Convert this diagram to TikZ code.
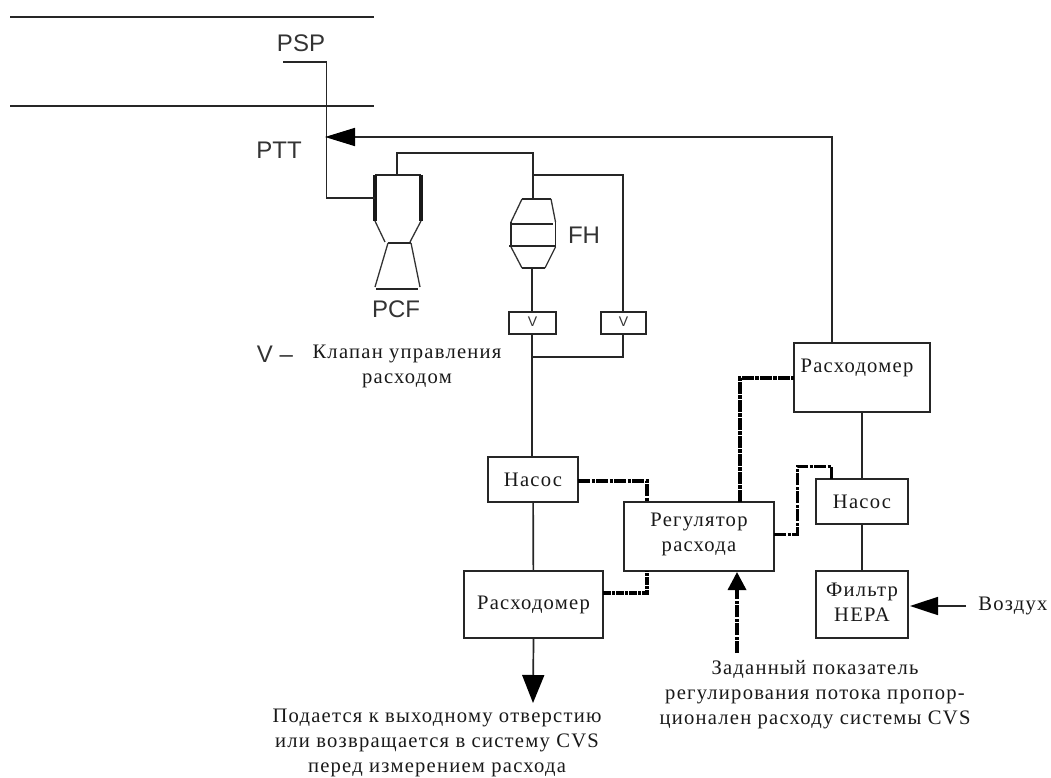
\documentclass[tikz,border=0pt]{standalone}
\usepackage{fontspec}
\setmainfont[LetterSpace=6]{Liberation Serif}
\newfontfamily\labfont{Liberation Sans}
\usetikzlibrary{arrows.meta}
\tikzset{
  x=1pt,y=-1pt,
  wire/.style={line width=1.7pt,black!85},
  thin wire/.style={line width=1.3pt,black!80},
  thick wall/.style={line width=3.2pt,black!90},
  boxn/.style={draw=black!85,line width=1.7pt,fill=none,inner sep=0pt,minimum width=#1},
  ctrl/.style={line width=3.4pt,black,dash pattern=on 12pt off 1.5pt on 3pt off 1.5pt,line join=miter},
  txt/.style={font=\fontsize{20.6}{25}\selectfont,align=center,inner sep=0pt,text=black!90},
  lab/.style={font=\labfont\fontsize{24}{26}\selectfont,inner sep=0pt,text=black!80},
  smalllab/.style={font=\labfont\fontsize{14}{16}\selectfont,inner sep=0pt,text=black!80},
}
\begin{document}
\begin{tikzpicture}
\useasboundingbox (0,0) rectangle (1051,778);
% duct
\coordinate (d1l) at (10,17); \coordinate (d1r) at (374,17);
\coordinate (d2l) at (10,106); \coordinate (d2r) at (374,106);
\draw[wire] (d1l) -- (d1r);
\draw[wire] (d2l) -- (d2r);
% boxes
\node[boxn=47pt,minimum height=22pt] (v1) at (532.5,323) {};
\node[boxn=45pt,minimum height=22pt] (v2) at (623.5,323) {};
\node[smalllab] (v1t) at (532.5,322) {V};
\node[smalllab] (v2t) at (623.5,322) {V};
\node[boxn=90pt,minimum height=45pt,txt] (pump1) at (533,479.5) {Насос};
\node[boxn=139pt,minimum height=67pt,txt] (meter1) at (533.5,604.5) {Расходомер};
\node[boxn=150pt,minimum height=69pt] (reg) at (699,536.5) {};
\node[txt] (regt) at (699,534.5) {Регулятор\\расхода};
\node[boxn=136pt,minimum height=69pt] (meter2) at (862,377.5) {};
\node[txt] (meter2t) at (857,368) {Расходомер};
\node[boxn=92pt,minimum height=45pt,txt] (pump2) at (862,501.5) {Насос};
\node[boxn=92pt,minimum height=67pt] (filter) at (862,604.5) {};
\node[txt] (filtert) at (862,602) {Фильтр\\HEPA};
% PCF
\coordinate (pcfa) at (375,175); \coordinate (pcfb) at (421,175);
\coordinate (pcfc) at (375,221); \coordinate (pcfd) at (421,221);
\coordinate (pcfe) at (385,242); \coordinate (pcff) at (410,242);
\coordinate (pcfg) at (388,243); \coordinate (pcfh) at (411,243);
\coordinate (pcfi) at (375,287); \coordinate (pcfj) at (420,287);
\coordinate (pcfk) at (376,289); \coordinate (pcfl) at (418,289);
\coordinate (pcfin) at (375,198); \coordinate (pcfout) at (397,175);
\draw[wire] (pcfa) -- (pcfb);
\draw[thick wall] (pcfa) -- (pcfc);
\draw[thick wall] (pcfb) -- (pcfd);
\draw[thin wire] (pcfc) -- (pcfe) (pcfd) -- (pcff);
\draw[wire] (pcfg) -- (pcfh);
\draw[thin wire] (pcfg) -- (pcfi) (pcfh) -- (pcfj);
\draw[wire] (pcfk) -- (pcfl);
\node[lab] (pcft) at (396,309) {PCF};
% FH
\coordinate (fha) at (522,199); \coordinate (fhb) at (551,199);
\coordinate (fhc) at (511,222); \coordinate (fhd) at (555.5,222);
\coordinate (fhe) at (511,247); \coordinate (fhf) at (555.5,247);
\coordinate (fhg) at (522,268); \coordinate (fhh) at (545,268);
\coordinate (fhin) at (533,199); \coordinate (fhout) at (532,268);
\draw[wire] (fha) -- (fhb);
\draw[thin wire] (fha) -- (fhc) (fhb) -- (fhd) (fhe) -- (fhg) (fhf) -- (fhh);
\draw[wire] (fhc) -- (fhe) (fhd) -- (fhf) (fhg) -- (fhh);
\draw[wire] (511,224) -- (553,224);
\draw[wire] (509,246) -- (556,246);
\node[lab] (fht) at (584,235) {FH};
% connectors
\coordinate (pspend) at (283,62);
\coordinate (pspc) at (326.5,62);
\coordinate (pttc) at (326.5,198);
\coordinate (ptt) at (325,137);
\coordinate (m2top) at (832,343);
\draw[wire] (pspend) -- (pspc) -- (pttc) -- (pcfin);
\draw[wire,-{Triangle[length=30pt,width=18pt,black]}] (m2top) |- (ptt);
\coordinate (top1) at (533,153);
\coordinate (j1) at (533,175);
\coordinate (j1r) at (623,175);
\coordinate (j2) at (532,357);
\coordinate (j2r) at (623,357);
\draw[wire] (pcfout) |- (top1) -- (fhin);
\draw[wire] (j1) -- (j1r) -- (v2.north -| j1r);
\draw[wire] (fhout) -- (v1.north -| fhout);
\draw[wire] (v1.south -| j2) -- (pump1.north -| j2);
\draw[wire] (j2) -- (j2r) -- (v2.south -| j2r);
\draw[wire] (pump1) -- (meter1);
\draw[wire] (meter2.south) -- (pump2.north);
\draw[wire] (pump2.south) -- (filter.north);
\coordinate (arrowdn) at (533,703);
\draw[wire,-{Triangle[length=28pt,width=22pt,black]}] (meter1.south) -- (arrowdn);
\coordinate (airstart) at (966,606);
\coordinate (airtip) at (910,606);
\draw[wire,-{Triangle[length=28pt,width=18pt,black]}] (airstart) -- (airtip);
\coordinate (setstart) at (737,653);
\coordinate (settip) at (737,572);
\draw[ctrl,-{Triangle[length=18pt,width=18pt]}] (setstart) -- (settip);
% control lines
\coordinate (c1a) at (578,481); \coordinate (c1b) at (647,481); \coordinate (c1c) at (647,502);
\draw[ctrl] (c1a) -- (c1b) -- (c1c);
\coordinate (c2a) at (603,593); \coordinate (c2b) at (647,593); \coordinate (c2c) at (647,571);
\draw[ctrl,line width=4pt,dash pattern=on 8pt off 1pt on 3pt off 1pt] (c2a) -- (c2b) -- (c2c);
\coordinate (c3a) at (740,502); \coordinate (c3b) at (740,378); \coordinate (c3c) at (794,378);
\draw[ctrl,line width=4pt,dash pattern=on 12pt off 1pt on 4pt off 1pt] (c3a) -- (c3b) -- (c3c);
\coordinate (c4a) at (774,534); \coordinate (c4b) at (797,534); \coordinate (c4c) at (797,466); \coordinate (c4d) at (831,466); \coordinate (c4e) at (831,480);
\draw[ctrl,line width=3pt] (c4a) -- (c4b) -- (c4c) -- (c4d) -- (c4e);
% labels
\node[lab] (psp) at (301,43) {PSP};
\node[lab] (pttl) at (279,150) {PTT};
\node[lab] (leg) at (275,354) {V –};
\node[txt] (legt) at (407,366.5) {Клапан управления\\расходом};
\node[txt] (air) at (1013,606) {Воздух};
\node[txt] (outt) at (437,743) {Подается к выходному отверстию\\или возвращается в систему CVS\\перед измерением расхода};
\node[txt] (sett) at (815,695) {Заданный показатель\\регулирования потока пропор-\\ционален расходу системы CVS};
\end{tikzpicture}
\end{document}
